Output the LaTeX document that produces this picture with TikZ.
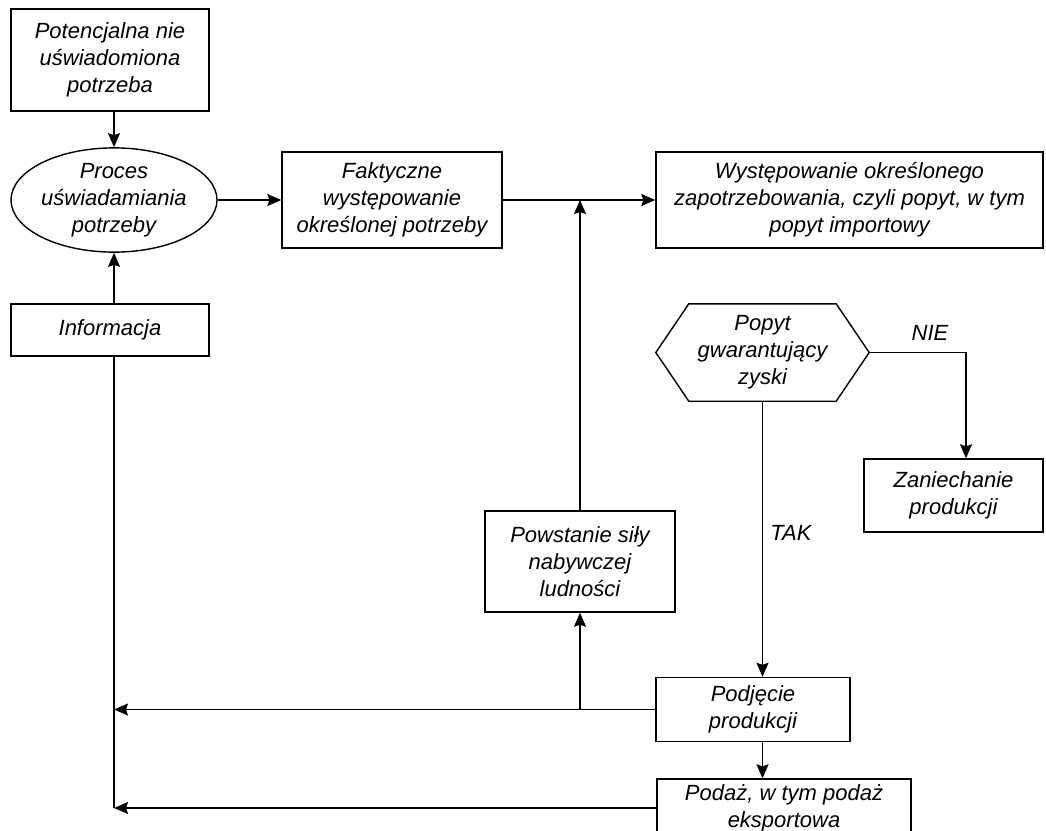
\documentclass[tikz,border=0pt]{standalone}
\usepackage{fontspec}
\setmainfont{Liberation Sans}
\usetikzlibrary{arrows.meta,shapes.geometric}
\begin{document}
\begin{tikzpicture}[x=1pt,y=-1pt,
  txt/.style={font=\itshape\fontsize{22}{27}\selectfont, align=center, inner sep=0pt},
  blk/.style={txt, draw, line width=1.4pt, rectangle},
  conn/.style={line width=1.4pt},
  arr/.style={conn, -{Stealth[length=14pt,width=12pt,inset=2pt]}}]
\useasboundingbox (0,0) rectangle (1046,830);
\clip (0,0) rectangle (1046,830);
\fill[white] (0,0) rectangle (1046,830);

% boxes and decision
\node[blk, minimum width=198pt, minimum height=102pt] (pot) at (110,60)
  {Potencjalna nie\\uświadomiona\\potrzeba};
\node[txt, draw, line width=1.4pt, ellipse, minimum width=206pt, minimum height=94pt] (proc) at (114,200)
  {Proces\\uświadamiania\\potrzeby};
\node[blk, minimum width=198pt, minimum height=52pt] (info) at (110,330) {Informacja};
\node[blk, minimum width=220pt, minimum height=96pt] (fakt) at (392,200)
  {Faktyczne\\występowanie\\określonej potrzeby};
\node[blk, minimum width=387pt, minimum height=96pt] (wyst) at (849.5,200)
  {Występowanie określonego\\zapotrzebowania, czyli popyt, w tym\\popyt importowy};
\node[txt, minimum width=213pt, minimum height=97pt] (hex) at (762.5,352.5)
  {Popyt\\gwarantujący\\zyski};
\draw[line width=1.4pt] (hex.west) -- ([xshift=33pt]hex.north west) -- ([xshift=-33pt]hex.north east)
  -- (hex.east) -- ([xshift=-33pt]hex.south east) -- ([xshift=33pt]hex.south west) -- cycle;
\node[blk, minimum width=179pt, minimum height=73pt] (zan) at (953.5,495.5)
  {Zaniechanie\\produkcji};
\node[blk, minimum width=190pt, minimum height=101pt] (pow) at (580,561.5)
  {Powstanie siły\\nabywczej\\ludności};
\node[blk, minimum width=194pt, minimum height=64pt] (podj) at (753,709.5)
  {Podjęcie\\produkcji};
\node[blk, minimum width=254pt, minimum height=58pt] (podaz) at (784,808)
  {Podaż, w tym podaż\\eksportowa};

% branch labels
\node[txt] (nie) at (930,333) {NIE};
\node[txt] (tak) at (791,533) {TAK};

% connectors
\draw[arr] (pot.south -| proc.north) -- (proc.north);
\draw[arr] (info.north -| proc.south) -- (proc.south);
\draw[arr] (proc.east) -- (fakt.west);
\draw[arr] (fakt.east) -- (wyst.west);
\draw[arr] (pow.north) -- (pow.north |- fakt.east);
\coordinate (nieturn) at (966,352.5);
\draw[arr] (hex.east) -- (nieturn) -- (nieturn |- zan.north);
\draw[arr] (hex.south) -- (hex.south |- podj.north);
\draw[arr] (hex.south |- podj.south) -- (hex.south |- podaz.north);
\draw[conn] (info.south -| proc.south) -- (proc.south |- podaz.west);
\draw[arr] (podj.west) -- (proc.south |- podj.west);
\draw[arr] (pow.south |- podj.west) -- (pow.south);
\draw[arr] (podaz.west) -- (proc.south |- podaz.west);
\end{tikzpicture}
\end{document}
